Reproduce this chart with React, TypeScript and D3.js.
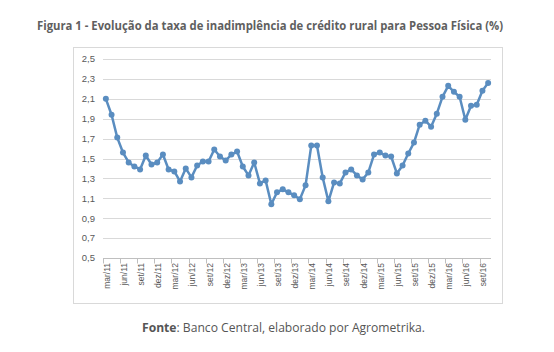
import React, { useRef, useEffect } from 'react'
import * as d3 from 'd3'

// taxa mensal, mar/11 .. out/16 (%)
const values = [
  2.1, 1.94, 1.71, 1.56, 1.46, 1.42, 1.39, 1.53, 1.44, 1.46, 1.54, 1.39,
  1.37, 1.27, 1.4, 1.31, 1.43, 1.47, 1.47, 1.59, 1.52, 1.48, 1.54, 1.57,
  1.42, 1.33, 1.46, 1.25, 1.28, 1.04, 1.16, 1.19, 1.16, 1.13, 1.09, 1.23,
  1.63, 1.63, 1.31, 1.07, 1.26, 1.25, 1.36, 1.39, 1.33, 1.29, 1.36, 1.54,
  1.56, 1.53, 1.52, 1.35, 1.43, 1.55, 1.66, 1.84, 1.88, 1.82, 1.95, 2.12,
  2.23, 2.17, 2.12, 1.89, 2.03, 2.04, 2.18, 2.26
]

// one label every 3 months
const tickLabels = [
  'mar/11', 'jun/11', 'set/11', 'dez/11', 'mar/12', 'jun/12', 'set/12', 'dez/12',
  'mar/13', 'jun/13', 'set/13', 'dez/13', 'mar/14', 'jun/14', 'set/14', 'dez/14',
  'mar/15', 'jun/15', 'set/15', 'dez/15', 'mar/16', 'jun/16', 'set/16'
]

const yTicks = [0.5, 0.7, 0.9, 1.1, 1.3, 1.5, 1.7, 1.9, 2.1, 2.3, 2.5]

const title =
  'Figura 1 - Evolução da taxa de inadimplência de crédito rural para Pessoa Física (%)'

export default function App() {
  const ref = useRef<SVGSVGElement>(null)

  useEffect(() => {
    if (!ref.current) return
    const svg = d3.select(ref.current)
    svg.selectAll('*').remove()

    const plot = { left: 103, right: 491, top: 59, bottom: 258 }
    const grey = '#595959'

    const x = d3
      .scaleBand<number>()
      .domain(d3.range(values.length))
      .range([plot.left, plot.right])
    const y = d3.scaleLinear().domain([0.5, 2.5]).range([plot.bottom, plot.top])
    const bw = x.bandwidth()

    // title
    svg
      .append('text')
      .attr('x', 270)
      .attr('y', 29.5)
      .attr('text-anchor', 'middle')
      .attr('textLength', 466)
      .attr('lengthAdjust', 'spacingAndGlyphs')
      .style('font', 'bold 12.5px "Open Sans", sans-serif')
      .attr('fill', '#5f5f5f')
      .text(title)

    // chart frame
    svg
      .append('rect')
      .attr('x', 73.5)
      .attr('y', 47.5)
      .attr('width', 429)
      .attr('height', 256)
      .attr('fill', '#fff')
      .attr('stroke', '#d9d9d9')

    // grid + y labels
    const gy = svg.append('g')
    gy.selectAll('line')
      .data(yTicks.slice(1))
      .join('line')
      .attr('x1', plot.left)
      .attr('x2', plot.right)
      .attr('y1', d => Math.round(y(d)) + 0.5)
      .attr('y2', d => Math.round(y(d)) + 0.5)
      .attr('stroke', '#d9d9d9')
    gy.selectAll('text')
      .data(yTicks)
      .join('text')
      .attr('x', 95)
      .attr('y', d => y(d))
      .attr('dy', '0.35em')
      .attr('text-anchor', 'end')
      .style('font', '9.5px "Liberation Sans", Arial, sans-serif')
      .attr('fill', grey)
      .text(d => d3.format('.1f')(d).replace('.', ','))

    // x axis
    const axisY = Math.round(y(0.5)) + 0.5
    svg
      .append('line')
      .attr('x1', plot.left)
      .attr('x2', plot.right)
      .attr('y1', axisY)
      .attr('y2', axisY)
      .attr('stroke', '#bfbfbf')
    const tickIdx = d3.range(0, values.length + 1, 3)
    svg
      .append('g')
      .selectAll('line')
      .data(tickIdx)
      .join('line')
      .attr('x1', d => Math.round(plot.left + d * bw) + 0.5)
      .attr('x2', d => Math.round(plot.left + d * bw) + 0.5)
      .attr('y1', axisY)
      .attr('y2', axisY + 5)
      .attr('stroke', '#bfbfbf')
    svg
      .append('g')
      .selectAll('text')
      .data(tickLabels)
      .join('text')
      .attr('transform', (d, i) => {
        const cx = (x(i * 3) as number) + bw / 2 + 1
        return `translate(${cx},263) rotate(-90)`
      })
      .attr('dy', '0.35em')
      .attr('text-anchor', 'end')
      .style('font', '8.5px "Liberation Sans", Arial, sans-serif')
      .attr('fill', grey)
      .text(d => d)

    // series
    const line = d3
      .line<number>()
      .x((d, i) => (x(i) as number) + bw / 2)
      .y(d => y(d))
    svg
      .append('path')
      .datum(values)
      .attr('d', line)
      .attr('fill', 'none')
      .attr('stroke', '#5a8dc0')
      .attr('stroke-width', 2.5)
      .attr('stroke-linejoin', 'round')
    svg
      .append('g')
      .selectAll('circle')
      .data(values)
      .join('circle')
      .attr('cx', (d, i) => (x(i) as number) + bw / 2)
      .attr('cy', d => y(d))
      .attr('r', 3)
      .attr('fill', '#5a8dc0')

    // source
    const src = svg
      .append('text')
      .attr('x', 283.5)
      .attr('y', 332)
      .attr('text-anchor', 'middle')
      .attr('textLength', 283)
      .attr('lengthAdjust', 'spacingAndGlyphs')
      .style('font', '12px "Open Sans", sans-serif')
      .attr('fill', '#555')
    src.append('tspan').attr('font-weight', 'bold').text('Fonte')
    src.append('tspan').text(': Banco Central, elaborado por Agrometrika.')
  }, [])

  return (
    <svg
      ref={ref}
      width={554}
      height={352}
      style={{ position: 'absolute', left: 0, top: 0, background: '#fff' }}
    />
  )
}
